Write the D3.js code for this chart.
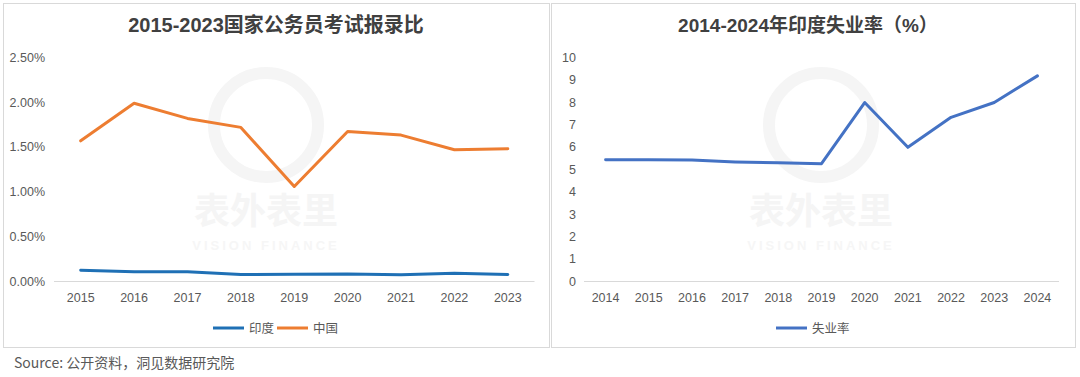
<!DOCTYPE html>
<html>
<head>
<meta charset="utf-8">
<script src="https://cdn.jsdelivr.net/npm/d3@7"></script>
<style>
  body { margin: 0; background: #fff; }
  text { font-family: "Liberation Sans", Arial, "Noto Sans CJK SC", sans-serif; }
</style>
</head>
<body>
<svg id="chart" width="1080" height="377"></svg>
<script>
// left chart: exam admission ratio (%)
const examYears = ["2015", "2016", "2017", "2018", "2019", "2020", "2021", "2022", "2023"];
const indiaRatio = [0.126, 0.108, 0.108, 0.078, 0.082, 0.085, 0.074, 0.093, 0.078];
const chinaRatio = [1.57, 1.99, 1.82, 1.72, 1.06, 1.675, 1.634, 1.471, 1.482];
const ratioTicks = [0, 0.5, 1.0, 1.5, 2.0, 2.5];

// right chart: India unemployment rate (%)
const unempYears = ["2014", "2015", "2016", "2017", "2018", "2019", "2020", "2021", "2022", "2023", "2024"];
const unempRate = [5.44, 5.43, 5.42, 5.34, 5.30, 5.26, 7.99, 5.99, 7.33, 7.99, 9.18];
const unempTicks = [0, 1, 2, 3, 4, 5, 6, 7, 8, 9, 10];

const svg = d3.select("#chart");
const grey = "#595959";

// panel frames
svg.append("rect").attr("x", 3.5).attr("y", 3.5).attr("width", 546).attr("height", 344)
    .attr("fill", "none").attr("stroke", "#d9d9d9");
svg.append("rect").attr("x", 551.5).attr("y", 3.5).attr("width", 524).attr("height", 344)
    .attr("fill", "none").attr("stroke", "#d9d9d9");

// faint watermark
function watermark(cx) {
    const g = svg.append("g");
    g.append("circle").attr("cx", cx).attr("cy", 125).attr("r", 52)
        .attr("fill", "none").attr("stroke", "#f5f5f5").attr("stroke-width", 12);
    g.append("text").attr("x", cx).attr("y", 224).attr("text-anchor", "middle")
        .style("font-size", "36px").style("font-weight", "bold").attr("fill", "#f5f5f5")
        .style("font-family", "Noto Sans CJK SC").text("表外表里");
    g.append("text").attr("x", cx).attr("y", 250).attr("text-anchor", "middle")
        .style("font-size", "13px").style("font-weight", "bold").attr("fill", "#f6f6f6")
        .style("letter-spacing", "3px").text("VISION FINANCE");
}
watermark(266);
watermark(821);

function drawChart(opt) {
    const x = d3.scaleBand().domain(opt.cats).range(opt.xr);
    const y = d3.scaleLinear().domain(opt.yd).range([281.5, 57.5]);
    const cx = d => x(d) + x.bandwidth() / 2;

    // title
    svg.append("text").attr("x", opt.titleX).attr("y", 32).attr("text-anchor", "middle")
        .style("font-size", opt.titleSize).style("font-weight", "bold").attr("fill", "#404040")
        .text(opt.title);

    // y axis labels
    svg.append("g").selectAll("text").data(opt.ticks).enter().append("text")
        .attr("x", opt.yLabelX).attr("y", d => y(d)).attr("dy", "0.35em")
        .attr("text-anchor", "end").style("font-size", "12.5px").attr("fill", grey)
        .text(opt.fmt);

    // baseline
    svg.append("line").attr("x1", opt.xr[0]).attr("x2", opt.xr[1])
        .attr("y1", y(0)).attr("y2", y(0)).attr("stroke", "#d9d9d9");

    // x axis labels
    svg.append("g").selectAll("text").data(opt.cats).enter().append("text")
        .attr("x", d => cx(d)).attr("y", 302).attr("text-anchor", "middle")
        .style("font-size", "12.5px").attr("fill", grey).text(d => d);

    const line = d3.line().x((d, i) => cx(opt.cats[i])).y(d => y(d));
    opt.series.forEach(s => {
        svg.append("path").datum(s.values).attr("d", line)
            .attr("fill", "none").attr("stroke", s.color).attr("stroke-width", 3)
            .attr("stroke-linejoin", "round").attr("stroke-linecap", "round");
        // legend entry
        svg.append("line").attr("x1", s.lx).attr("x2", s.lx + 31).attr("y1", 328).attr("y2", 328)
            .attr("stroke", s.color).attr("stroke-width", 3);
        svg.append("text").attr("x", s.lx + 36).attr("y", 328).attr("dy", "0.36em")
            .style("font-size", "12.5px").attr("fill", grey)
            .style("font-family", "Noto Sans CJK SC").text(s.name);
    });
}

drawChart({
    cats: examYears, xr: [54, 534.5], yd: [0, 2.5], ticks: ratioTicks,
    fmt: d => d.toFixed(2) + "%", yLabelX: 45, titleX: 276, titleSize: "20px",
    title: "2015-2023国家公务员考试报录比",
    series: [
        { name: "印度", values: indiaRatio, color: "#1f70b5", lx: 213 },
        { name: "中国", values: chinaRatio, color: "#ed7d31", lx: 277 }
    ]
});

drawChart({
    cats: unempYears, xr: [584, 1059], yd: [0, 10], ticks: unempTicks,
    fmt: d => d, yLabelX: 576, titleX: 808, titleSize: "19px",
    title: "2014-2024年印度失业率（%）",
    series: [
        { name: "失业率", values: unempRate, color: "#4472c4", lx: 776 }
    ]
});

// source note
svg.append("text").attr("x", 14).attr("y", 363).attr("dy", "0.35em")
    .style("font-size", "14px").attr("fill", grey)
    .style("font-family", "Noto Sans CJK SC").text("Source: 公开资料，洞见数据研究院");
</script>
</body>
</html>
